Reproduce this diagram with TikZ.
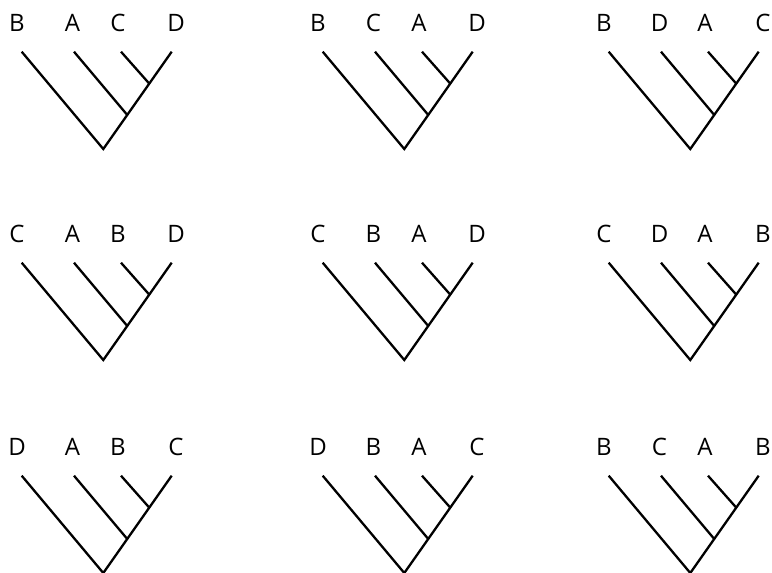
\documentclass[tikz,border=0pt]{standalone}
\usepackage{fontspec}
\setmainfont{Open Sans}
\usetikzlibrary{calc}
\begin{document}
\begin{tikzpicture}[x=1pt,y=-1pt,
  branch/.style={line width=2.3pt, line join=miter},
  lbl/.style={font=\fontsize{24}{24}\selectfont, inner sep=0pt, anchor=base}]
\useasboundingbox (0,0) rectangle (772,573);
\foreach \ox/\oy/\la/\lb/\lc/\ld [count=\i] in
  {0/0/B/A/C/D, 301/0/B/C/A/D, 587/0/B/D/A/C,
   0/211/C/A/B/D, 301/211/C/B/A/D, 587/211/C/D/A/B,
   0/424/D/A/B/C, 301/424/D/B/A/C, 587/424/B/C/A/B}{
  \begin{scope}[shift={(\ox,\oy)}]
    \coordinate (r\i) at (103.3,149);
    \coordinate (la\i) at (21.7,51.7);
    \coordinate (lb\i) at (74,51.7);
    \coordinate (lc\i) at (121,51.7);
    \coordinate (ld\i) at (171.7,51.7);
    \coordinate (nb\i) at ($(r\i)!0.35!(ld\i)$);
    \coordinate (nc\i) at ($(r\i)!0.672!(ld\i)$);
    \node[lbl] (ta\i) at (17,31.7) {\la};
    \node[lbl] (tb\i) at (72.5,31.7) {\lb};
    \node[lbl] (tc\i) at (118,31.7) {\lc};
    \node[lbl] (td\i) at (176,31.7) {\ld};
    \draw[branch] (la\i) -- (r\i) -- (ld\i);
    \draw[branch] (lb\i) -- (nb\i);
    \draw[branch] (lc\i) -- (nc\i);
  \end{scope}
}
\end{tikzpicture}
\end{document}
